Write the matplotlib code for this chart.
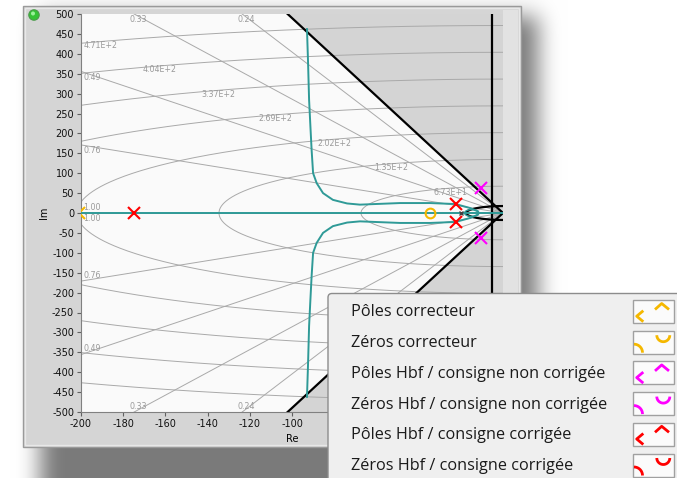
import numpy as np
import matplotlib
matplotlib.use("Agg")
import matplotlib.pyplot as plt
from matplotlib.patches import Rectangle, FancyBboxPatch, Polygon, Circle

W, H = 677, 478

## values
zeta_vals = [0.24, 0.33, 0.49, 0.76]
wn_vals = [67.3, 134.6, 201.9, 269.2, 336.5, 403.8, 471.1]
wn_labels = ["6.73E+1", "1.35E+2", "2.02E+2", "2.69E+2", "3.37E+2", "4.04E+2", "4.71E+2"]
wn_label_re = [-33, -61, -88, -116, -143, -171, -199]

zeta_min = 0.2      # damping cone
re_max = -5         # vertical limit
wn_min = 17.5       # small circle around origin

# upper branch of the root locus (lower one is the mirror)
locus_re = [-92.9, -92.4, -91.9, -91.3, -90.7, -90.0, -88.3, -85.3, -80.6,
            -73.9, -67.8, -58.3, -48.8, -34.6, -22.5, -15.6, -11.8]
locus_im = [462, 380, 284, 220, 158, 100, 75, 50, 33,
            24, 21, 23, 25, 25, 22.5, 12.5, 4]
loop_center = -14.9
loop_half_re = 3.3
loop_half_im = 8.5

poles_corr_re, poles_corr_im = [-201], [0]
zeros_corr_re, zeros_corr_im = [-34.8], [0]
poles_nc_re, poles_nc_im = [-10.4, -10.4], [63, -63]
poles_c_re, poles_c_im = [-175, -22.5, -22.5], [0, 22, -22]
ol_pole_re, ol_pole_im = [-20], [0]

# x ticks right of -100 sit under the popup in the screenshot
x_ticks = [-200, -180, -160, -140, -120, -100]
y_ticks = list(range(-500, 501, 50))

legend_labels = ["Pôles correcteur", "Zéros correcteur",
                 "Pôles Hbf / consigne non corrigée", "Zéros Hbf / consigne non corrigée",
                 "Pôles Hbf / consigne corrigée", "Zéros Hbf / consigne corrigée"]
legend_colors = ["#f5b800", "#f5b800", "#ff00ff", "#ff00ff", "#ff0000", "#ff0000"]

teal = "#2f9a97"
yellow = "#f5b800"

plt.rcParams['axes.unicode_minus'] = False
fig = plt.figure(figsize=(W / 100, H / 100), dpi=100)

## background: white page + blurred drop shadow + panel
bg = fig.add_axes([0, 0, 1, 1], zorder=0)
bg.set_xlim(0, W)
bg.set_ylim(H, 0)
bg.axis("off")

mask = np.zeros((H, W))
mask[16:H, 40:538] = 1.0

def box_blur(a, r, axis):
    k = np.ones(2 * r + 1) / (2 * r + 1)
    return np.apply_along_axis(lambda v: np.convolve(np.pad(v, r, mode="edge"), k, mode="valid"), axis, a)

for _ in range(3):
    mask = box_blur(mask, 10, 0)
    mask = box_blur(mask, 10, 1)
shade = 1 - 0.52 * mask
bg.imshow(np.dstack([shade, shade, shade]), extent=(0, W, H, 0), aspect="auto", zorder=0)

bg.add_patch(Rectangle((23, 6), 498, 441, facecolor="#d5d5d5", edgecolor="#9a9a9a", lw=1, zorder=1))
bg.add_patch(Rectangle((25, 8), 494, 437, facecolor="none", edgecolor="#e8e8e8", lw=1, zorder=1))
bg.add_patch(Rectangle((503, 10), 15, 404, facecolor="#e2e2e2", edgecolor="none", zorder=1))
bg.add_patch(Circle((34, 15), 5.2, facecolor="#36c236", edgecolor="#4a9a4a", lw=0.8, zorder=2))
bg.add_patch(Circle((33, 13.5), 2.0, facecolor="#9af09a", edgecolor="none", zorder=3))

## the s-plane plot
ax = fig.add_axes([81 / W, (H - 412) / H, 422 / W, 398 / H], zorder=1)
ax.set_xlim(-200, 0)
ax.set_ylim(-500, 500)
ax.set_facecolor("#d4d4d4")

slope = np.sqrt(1 - zeta_min ** 2) / zeta_min
ok_zone = [(-210, 520), (-520 / slope, 520), (re_max, -re_max * slope),
           (re_max, re_max * slope), (-520 / slope, -520), (-210, -520)]
ax.add_patch(Polygon(ok_zone, closed=True, facecolor="#fafafa", edgecolor="none", zorder=0))

# grid: constant wn circles and constant zeta lines
grid_kw = dict(color="#a9a9a9", lw=0.7, zorder=1)
t = np.linspace(np.pi / 2, 3 * np.pi / 2, 400)
for wn in wn_vals:
    ax.plot(wn * np.cos(t), wn * np.sin(t), **grid_kw)
for z in zeta_vals:
    s = np.sqrt(1 - z ** 2) / z
    ax.plot([-1000 / s, 0, -1000 / s], [1000, 0, -1000], **grid_kw)
ax.plot([-200, 0], [0, 0], **grid_kw)

lab_kw = dict(color="#9a9a9a", fontsize=5.7, ha="left", zorder=2)
for z in zeta_vals:
    s = np.sqrt(1 - z ** 2) / z
    if 500 / s < 200:
        ax.text(-500 / s - 2, 498, f"{z:.2f}", va="top", **lab_kw)
        ax.text(-500 / s - 2, -498, f"{z:.2f}", va="bottom", **lab_kw)
    else:
        ax.text(-199, 200 * s - 3, f"{z:.2f}", va="top", **lab_kw)
        ax.text(-199, -200 * s + 3, f"{z:.2f}", va="bottom", **lab_kw)
ax.text(-199, 2, "1.00", va="bottom", **lab_kw)
ax.text(-199, -2, "1.00", va="top", **lab_kw)
for wn, lab, re in zip(wn_vals, wn_labels, wn_label_re):
    ax.text(re, np.sqrt(wn ** 2 - re ** 2) - 6, lab, va="center", **lab_kw)

# forbidden-zone boundary
bk = dict(color="black", lw=1.6, zorder=3)
ax.plot([-500 / slope, 0, -500 / slope], [500, 0, -500], **bk)
ax.axvline(re_max, **bk)
tc = np.linspace(np.pi / 2, 3 * np.pi / 2, 200)
ax.plot(wn_min * np.cos(tc), wn_min * np.sin(tc), **bk)

# root locus
lc = dict(color=teal, lw=1.4, zorder=4)
ax.plot([-200, 0], [0, 0], **lc)
ax.plot(locus_re, locus_im, **lc)
ax.plot(locus_re, [-v for v in locus_im], **lc)
tl = np.linspace(0, 2 * np.pi, 100)
ax.plot(loop_center + loop_half_re * np.cos(tl), loop_half_im * np.sin(tl), color=teal, lw=1.0, zorder=4)

# poles / zeros
mk = dict(ls="none", zorder=5, mew=1.5)
ax.plot(poles_corr_re, poles_corr_im, marker="x", ms=8, color=yellow, **mk)
ax.plot(zeros_corr_re, zeros_corr_im, marker="o", ms=7, mfc="none", color=yellow, **mk)
ax.plot(poles_nc_re, poles_nc_im, marker="x", ms=8, color="#ff00ff", **mk)
ax.plot(poles_c_re, poles_c_im, marker="x", ms=8, color="#ff0000", **mk)
ax.plot(ol_pole_re, ol_pole_im, marker="x", ms=3.5, color="#404040", ls="none", mew=1, zorder=5)

ax.set_xticks(x_ticks)
ax.set_yticks(y_ticks)
ax.tick_params(labelsize=7, length=3, width=0.8, color="#606060", labelcolor="#111111", pad=2)
for side in ["top", "right"]:
    ax.spines[side].set_visible(False)
for side in ["left", "bottom"]:
    ax.spines[side].set_color("#808080")
ax.set_xlabel("Re", fontsize=7, labelpad=4)
ax.set_ylabel("Im", fontsize=7, labelpad=2)

## popup legend over the bottom-right corner
fg = fig.add_axes([0, 0, 1, 1], zorder=2)
fg.set_xlim(0, W)
fg.set_ylim(H, 0)
fg.axis("off")
fg.patch.set_alpha(0)
fg.add_patch(FancyBboxPatch((328, 293.5), 400, 250, boxstyle="round,pad=0,rounding_size=4",
                            facecolor="#efefef", edgecolor="#8c8c8c", lw=1))
for i, (lab, col) in enumerate(zip(legend_labels, legend_colors)):
    top = 300 + 30.7 * i
    fg.text(351, top + 12.5, lab, fontsize=11.7, family=["Open Sans", "DejaVu Sans"],
            color="#1a1a1a", va="center", ha="left")
    fg.add_patch(Rectangle((633, top), 41, 23, facecolor="#fbfbfb", edgecolor="#a0a0a0", lw=1))
    gk = dict(color=col, lw=2, solid_capstyle="butt")
    if i % 2 == 0:
        fg.plot([643.3, 636.7, 643.3], [top + 10.7, top + 16.2, top + 21.7], **gk)
        fg.plot([655, 661.7, 669], [top + 9.5, top + 3.5, top + 9.5], **gk)
    else:
        a = np.linspace(-np.pi / 2, 0, 30)
        fg.plot(634 + 8.5 * np.cos(a), top + 22 + 8.5 * np.sin(a), **gk)
        b = np.linspace(0, np.pi, 40)
        fg.plot(663.3 + 6.5 * np.cos(b), top + 4.5 + 6.5 * np.sin(b), **gk)

fig.savefig("out.png", dpi=100)
